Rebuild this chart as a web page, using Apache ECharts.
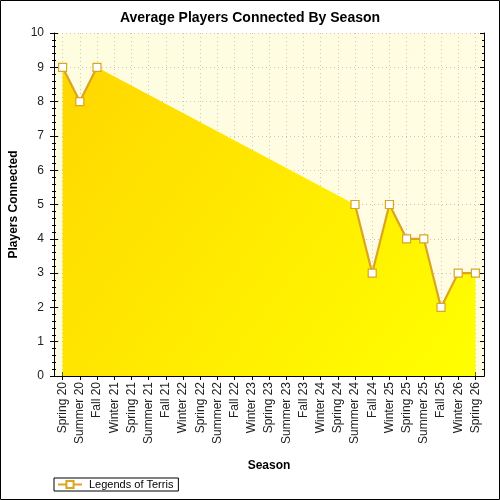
<!DOCTYPE html>
<html>
<head>
<meta charset="utf-8">
<script src="https://cdn.jsdelivr.net/npm/echarts@6/dist/echarts.min.js"></script>
<style>
html,body{margin:0;padding:0;background:#fff;}
#c{width:500px;height:500px;}
</style>
</head>
<body>
<div id="c"></div>
<script>
const categories = ['Spring 20','Summer 20','Fall 20','Winter 21','Spring 21','Summer 21','Fall 21','Winter 22','Spring 22','Summer 22','Fall 22','Winter 23','Spring 23','Summer 23','Fall 23','Winter 24','Spring 24','Summer 24','Fall 24','Winter 25','Spring 25','Summer 25','Fall 25','Winter 26','Spring 26'];
const playersConnected = [9,8,9,null,null,null,null,null,null,null,null,null,null,null,null,null,null,5,3,5,4,4,2,3,3];
const yTicks = [0,1,2,3,4,5,6,7,8,9,10];
const seriesName = 'Legends of Terris';

const chart = echarts.init(document.getElementById('c'));
const font = 'Liberation Sans, Arial, sans-serif';
const gridRect = {left:54, right:16, top:33, bottom:124, outerBoundsMode:'none', containLabel:false};
const yMin = yTicks[0], yMax = yTicks[yTicks.length-1];

chart.setOption({
  backgroundColor:'#ffffff',
  animation:false,
  graphic:[{type:'rect',shape:{x:0.5,y:0.5,width:499,height:499},style:{fill:'none',stroke:'#000',lineWidth:1},z:100,silent:true}],
  title:{text:'Average Players Connected By Season',left:'center',top:6,textStyle:{fontFamily:font,fontSize:14,fontWeight:'bold',color:'#000'}},
  legend:{
    data:[seriesName],left:54,top:478,orient:'horizontal',
    itemWidth:24,itemHeight:9,itemGap:4,
    borderColor:'#000',borderWidth:1,padding:[1,5,1,3],borderRadius:0,
    textStyle:{fontFamily:font,fontSize:11,color:'#000',padding:[0,0,0,2]}
  },
  grid:[
    Object.assign({show:true,borderWidth:0,
      backgroundColor:new echarts.graphic.LinearGradient(0,0,1,1,[{offset:0,color:'#FFFDE0'},{offset:1,color:'#FFFCE2'}])},gridRect),
    Object.assign({},gridRect)
  ],
  xAxis:[
    {gridIndex:0,type:'category',data:categories,position:'bottom',boundaryGap:true,
     name:'Season',nameLocation:'middle',nameGap:84,
     nameTextStyle:{fontFamily:font,fontSize:12,fontWeight:'bold',color:'#000'},
     axisLine:{show:true,lineStyle:{color:'#000',width:1}},
     axisTick:{show:true,alignWithLabel:true,inside:false,length:4,lineStyle:{color:'#000'}},
     axisLabel:{interval:0,rotate:90,margin:6,fontFamily:font,fontSize:12,color:'#222'},
     splitLine:{show:true,alignWithLabel:true,interval:0,lineStyle:{color:'#c8c8c8',type:[1,3],width:1}}
    },
    {gridIndex:0,type:'category',data:categories,position:'top',boundaryGap:true,
     axisLine:{show:true,lineStyle:{color:'#000',width:1}},
     axisTick:{show:true,alignWithLabel:true,inside:true,length:4,interval:0,lineStyle:{color:'#000'}},
     axisLabel:{show:false},splitLine:{show:false}},
    {gridIndex:1,type:'category',data:categories,position:'bottom',boundaryGap:true,
     axisLine:{show:false},
     axisTick:{show:true,alignWithLabel:true,inside:true,length:4,interval:0,lineStyle:{color:'#000'}},
     axisLabel:{show:false},splitLine:{show:false}}
  ],
  yAxis:[
    {gridIndex:0,type:'value',min:yMin,max:yMax,interval:1,position:'left',
     name:'Players Connected',nameLocation:'middle',nameGap:29,
     nameTextStyle:{fontFamily:font,fontSize:12,fontWeight:'bold',color:'#000'},
     axisLine:{show:true,lineStyle:{color:'#000',width:1}},
     axisTick:{show:true,inside:false,length:4,lineStyle:{color:'#000'}},
     minorTick:{show:true,splitNumber:5,length:2,lineStyle:{color:'#000'}},
     axisLabel:{margin:10,fontFamily:font,fontSize:12,color:'#222'},
     splitLine:{show:true,lineStyle:{color:'#c8c8c8',type:[1,3],width:1}}
    },
    {gridIndex:0,type:'value',min:yMin,max:yMax,interval:1,position:'right',
     axisLine:{show:true,lineStyle:{color:'#000',width:1}},
     axisTick:{show:true,inside:true,length:4,lineStyle:{color:'#000'}},
     minorTick:{show:true,splitNumber:5,length:2,lineStyle:{color:'#000'}},
     axisLabel:{show:false},splitLine:{show:false}},
    {gridIndex:1,type:'value',min:yMin,max:yMax,interval:1,position:'left',
     axisLine:{show:false},
     axisTick:{show:true,inside:true,length:4,lineStyle:{color:'#000'}},
     minorTick:{show:true,splitNumber:5,length:2,lineStyle:{color:'#000'}},
     axisLabel:{show:false},splitLine:{show:false}}
  ],
  series:[
    {name:'area',type:'line',xAxisIndex:0,yAxisIndex:0,data:playersConnected,connectNulls:true,
     showSymbol:false,symbol:'none',lineStyle:{width:0,opacity:0},
     areaStyle:{opacity:1,color:new echarts.graphic.LinearGradient(0,0,1,1,[{offset:0,color:'#FFD700'},{offset:1,color:'#FFFF00'}])},
     z:1,silent:true},
    {name:seriesName,type:'line',xAxisIndex:0,yAxisIndex:0,data:playersConnected,connectNulls:false,
     symbol:'rect',symbolSize:8,showSymbol:true,
     itemStyle:{color:'#ffffff',borderColor:'#DAA520',borderWidth:1.2},
     lineStyle:{color:'#DAA520',width:2.2},
     z:3}
  ]
});
</script>
</body>
</html>
